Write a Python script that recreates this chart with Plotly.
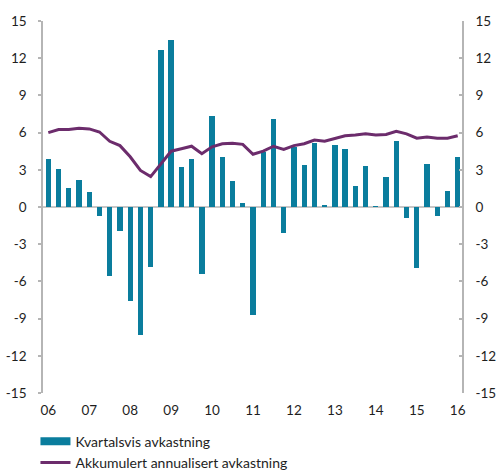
import plotly.graph_objects as go

# quarterly return and accumulated annualised return, 2006 - 2016 (percent)
quarters = list(range(41))
year_labels = ["06", "07", "08", "09", "10", "11", "12", "13", "14", "15", "16"]

kvartal = [3.9, 3.1, 1.5, 2.2, 1.2, -0.7, -5.6, -1.9, -7.6, -10.3,
           -4.8, 12.7, 13.5, 3.2, 3.9, -5.4, 7.3, 4.0, 2.1, 0.3,
           -8.7, 4.4, 7.1, -2.1, 4.8, 3.4, 5.2, 0.1, 5.0, 4.7,
           1.7, 3.3, 0.05, 2.4, 5.3, -0.9, -4.9, 3.5, -0.7, 1.3,
           4.0]
akkumulert = [6.0, 6.25, 6.25, 6.35, 6.3, 6.05, 5.3, 4.95, 4.05, 2.95,
              2.45, 3.5, 4.5, 4.7, 4.9, 4.3, 4.85, 5.1, 5.15, 5.05,
              4.25, 4.5, 4.9, 4.65, 4.95, 5.1, 5.4, 5.3, 5.5, 5.75,
              5.8, 5.9, 5.8, 5.85, 6.1, 5.9, 5.55, 5.65, 5.55, 5.55,
              5.75]

teal = "#0a7d9d"
purple = "#6c2c6c"
grey = "#b5b5b5"
font = dict(family="Lato, Open Sans, sans-serif", size=14, color="#1e1e1e")
tickfont = dict(family="Lato, Open Sans, sans-serif", size=13.5, color="#1e1e1e")

fig = go.Figure()
fig.add_trace(go.Bar(
    x=quarters, y=kvartal, name="Kvartalsvis avkastning", showlegend=False,
    marker=dict(color=teal, line=dict(width=0)), width=0.52,
))
# legend swatch for the bars (wide flat bar like in the original)
fig.add_trace(go.Scatter(
    x=[None], y=[None], name="Kvartalsvis avkastning",
    mode="lines", line=dict(color=teal, width=8),
))
fig.add_trace(go.Scatter(
    x=quarters, y=akkumulert, name="Akkumulert annualisert avkastning",
    mode="lines", line=dict(color=purple, width=3),
))
# invisible trace to drive the right-hand axis
fig.add_trace(go.Scatter(x=[0], y=[0], yaxis="y2", showlegend=False,
                         mode="markers", marker=dict(opacity=0), hoverinfo="skip"))

yticks = list(range(-15, 16, 3))
yaxis_common = dict(
    range=[-15, 15], tickvals=yticks, ticktext=[str(v) for v in yticks],
    showgrid=False, zeroline=False, showline=True, linecolor=grey, linewidth=1.5,
    ticklen=3, tickcolor=grey, tickwidth=1.5, tickfont=tickfont,
)

fig.update_layout(
    width=496, height=470,
    margin=dict(l=43, r=34, t=21, b=77, autoexpand=False),
    plot_bgcolor="white", paper_bgcolor="white",
    font=font,
    bargap=0,
    xaxis=dict(
        range=[-0.52, 40.42], tickvals=[0, 4, 8, 12, 16, 20, 24, 28, 32, 36, 40],
        ticktext=year_labels, showgrid=False, zeroline=False, showline=False,
        ticks="", tickfont=tickfont, ticklabelstandoff=7, tickangle=0,
    ),
    yaxis=dict(**yaxis_common, side="left", ticks="outside", ticklabelstandoff=9),
    yaxis2=dict(**yaxis_common, side="right", overlaying="y", ticks="inside",
                ticklabelstandoff=9),
    shapes=[dict(type="line", xref="paper", yref="y", x0=0, x1=1, y0=0, y1=0,
                 line=dict(color=grey, width=1.5), layer="below")],
    legend=dict(
        x=-0.018, y=-0.088, xanchor="left", yanchor="top",
        font=font, bgcolor="rgba(0,0,0,0)", tracegroupgap=0, itemwidth=30,
    ),
    showlegend=True,
)

# drop the default 8px page margin so the figure fills the window exactly
fig.write_html("out.html", config={"displayModeBar": False},
               post_script="document.body.style.margin='0';document.body.style.overflow='hidden';")
